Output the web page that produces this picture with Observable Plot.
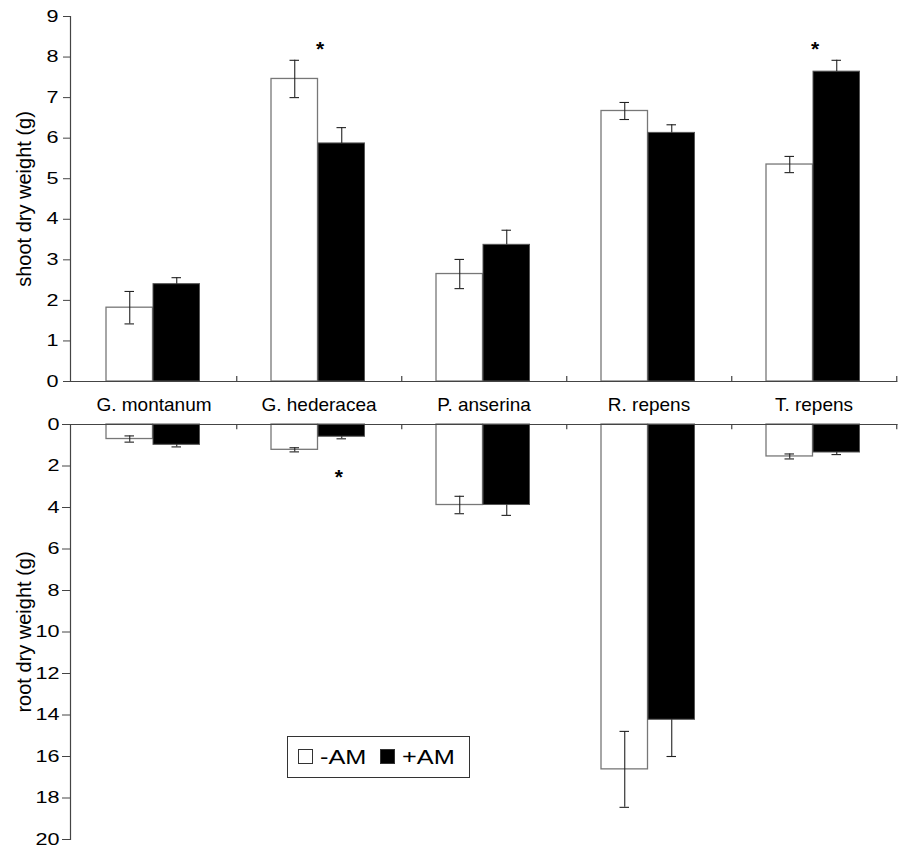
<!DOCTYPE html>
<html>
<head>
<meta charset="utf-8">
<script src="https://cdn.jsdelivr.net/npm/d3@7"></script>
<script src="https://cdn.jsdelivr.net/npm/@observablehq/plot@0.6"></script>
<style>
  html, body { margin: 0; padding: 0; background: #fff; }
  #wrap { position: relative; width: 900px; height: 847px; font-family: "Liberation Sans", Arial, sans-serif; }
  #wrap svg { display: block; }
  #legend { position: absolute; left: 287px; top: 736px; }
</style>
</head>
<body>
<div id="wrap"></div>
<script>
// ---- data ----
const categories = ["G. montanum", "G. hederacea", "P. anserina", "R. repens", "T. repens"];
const treatments = ["-AM", "+AM"];

const shootMinusAM    = [1.82, 7.46, 2.65, 6.67, 5.35];
const shootMinusAMErr = [0.40, 0.46, 0.36, 0.21, 0.20];
const shootPlusAM     = [2.40, 5.87, 3.37, 6.13, 7.64];
const shootPlusAMErr  = [0.16, 0.39, 0.36, 0.20, 0.28];

const rootMinusAM     = [0.70, 1.22, 3.88, 16.62, 1.54];
const rootMinusAMErr  = [0.15, 0.10, 0.42, 1.83, 0.12];
const rootPlusAM      = [0.98, 0.59, 3.88, 14.23, 1.35];
const rootPlusAMErr   = [0.10, 0.10, 0.50, 1.77, 0.10];

const shootTicks = [0, 1, 2, 3, 4, 5, 6, 7, 8, 9];
const rootTicks  = [0, 2, 4, 6, 8, 10, 12, 14, 16, 18, 20];

const shootSignificant = ["G. hederacea", "T. repens"];
const rootSignificant  = ["G. hederacea"];

const shootTitle = "shoot dry weight (g)";
const rootTitle  = "root dry weight (g)";

// ---- build rows ----
function rows(minus, minusErr, plus, plusErr) {
  const out = [];
  categories.forEach((c, i) => {
    out.push({cat: c, trt: "-AM", v: minus[i], e: minusErr[i]});
    out.push({cat: c, trt: "+AM", v: plus[i], e: plusErr[i]});
  });
  return out;
}
const shootRows = rows(shootMinusAM, shootMinusAMErr, shootPlusAM, shootPlusAMErr);
const rootRows  = rows(rootMinusAM, rootMinusAMErr, rootPlusAM, rootPlusAMErr);

// ---- layout constants (styling) ----
const W = 900;
const ML = 70, MR = 2.5;
const band = (W - ML - MR) / categories.length;   // ~165.5
const half = band / 2;
const barW = 47, barOff = 35;
const whiteIn = {insetLeft: barOff, insetRight: band - barOff - barW};
const blackIn = {insetLeft: barOff + barW, insetRight: band - barOff - 2 * barW};
const whiteDx = barOff + barW / 2 - half;
const blackDx = barOff + 1.5 * barW - half;
const capHalf = 5;
const axisColor = "#444";
const errColor = "#222";
const font = "Liberation Sans, Arial, sans-serif";

function panelMarks(data, sig, sigY, sigTrt, tickLen) {
  const white = data.filter(d => d.trt === "-AM");
  const black = data.filter(d => d.trt === "+AM");
  const cap = (arr, dx, yf) => Plot.tickY(arr, {x: "cat", y: yf, dx, insetLeft: half - capHalf, insetRight: half - capHalf, stroke: errColor, strokeWidth: 1.1});
  return [
    Plot.barY(white, {x: "cat", y: "v", fill: "white", stroke: "#777", strokeWidth: 1.3, ...whiteIn}),
    Plot.barY(black, {x: "cat", y: "v", fill: "black", stroke: "#555", strokeWidth: 1, ...blackIn}),
    // -AM: full error bars
    Plot.ruleX(white, {x: "cat", y1: d => d.v - d.e, y2: d => d.v + d.e, dx: whiteDx, stroke: errColor, strokeWidth: 1.1}),
    cap(white, whiteDx, d => d.v + d.e),
    cap(white, whiteDx, d => d.v - d.e),
    // +AM: only the outward half is visible against the black bar
    Plot.ruleX(black, {x: "cat", y1: "v", y2: d => d.v + d.e, dx: blackDx, stroke: errColor, strokeWidth: 1.1}),
    cap(black, blackDx, d => d.v + d.e),
    Plot.ruleY([0], {stroke: axisColor, strokeWidth: 1.2, insetLeft: -6}),
    Plot.ruleX(categories, {x: d => d, dx: half, y1: 0, y2: tickLen, stroke: axisColor, strokeWidth: 1.2}),
    Plot.frame({anchor: "left", stroke: axisColor, strokeWidth: 1.2}),
    Plot.text(sig, {x: d => d, y: sigY, text: () => "*", fontSize: 21, fontWeight: "bold",
      dx: sigTrt === "+AM" ? blackDx - 3 : 1, fill: "black"})
  ];
}

function stretchTicks(svg, k) {
  svg.querySelectorAll('g[aria-label="y-axis tick label"] text').forEach(t => {
    const tr = t.getAttribute("transform") || "";
    t.setAttribute("transform", tr + ` scale(${k},1)`);
  });
}

// ---- top panel (shoot) ----
const shootPlot = Plot.plot({
  width: W, height: 416,
  marginLeft: ML, marginRight: MR, marginTop: 16, marginBottom: 35,
  style: {fontFamily: font, background: "white", color: "black"},
  x: {domain: categories, padding: 0},
  y: {domain: [0, 9]},
  marks: [
    ...panelMarks(shootRows, shootSignificant, 8.2, null, 0.125),
    Plot.axisY({ticks: shootTicks, tickSize: 7, tickPadding: 5, fontSize: 16, label: null, stroke: axisColor, tickFormat: d => String(d)}),
    Plot.axisX({tickSize: 0, tickPadding: 16, fontSize: 19, label: null}),
    Plot.text([shootTitle], {frameAnchor: "left", textAnchor: "middle", rotate: -90, dx: -46, text: d => d, fontSize: 20, fill: "black"})
  ]
});

// ---- bottom panel (root) ----
const rootPlot = Plot.plot({
  width: W, height: 431,
  marginLeft: ML, marginRight: MR, marginTop: 8, marginBottom: 8,
  style: {fontFamily: font, background: "white", color: "black"},
  x: {domain: categories, padding: 0, axis: null},
  y: {domain: [0, 20], reverse: true},
  marks: [
    ...panelMarks(rootRows, rootSignificant, 2.55, "+AM", 0.25),
    Plot.axisY({ticks: rootTicks, tickSize: 8, tickPadding: 3, fontSize: 16, label: null, stroke: axisColor, tickFormat: d => String(d)}),
    Plot.text([rootTitle], {frameAnchor: "left", textAnchor: "middle", rotate: -90, dx: -46, text: d => d, fontSize: 20, fill: "black"})
  ]
});

stretchTicks(shootPlot, 1.35);
stretchTicks(rootPlot, 1.35);

const wrap = document.getElementById("wrap");
wrap.appendChild(shootPlot);
wrap.appendChild(rootPlot);

// ---- legend ----
const legW = 182, legH = 41;
const leg = d3.create("svg").attr("id", "legend").attr("width", legW + 1).attr("height", legH + 1)
  .style("font-family", font);
leg.append("rect").attr("x", 0.5).attr("y", 0.5).attr("width", legW).attr("height", legH)
  .attr("fill", "white").attr("stroke", "#333").attr("stroke-width", 1);
const items = [
  {label: treatments[0], fill: "white", sx: 11, tx: 33},
  {label: treatments[1], fill: "black", sx: 93, tx: 115}
];
items.forEach(it => {
  leg.append("rect").attr("x", it.sx + 0.5).attr("y", 13.5).attr("width", 14).attr("height", 14)
    .attr("fill", it.fill).attr("stroke", "#333").attr("stroke-width", 1);
  leg.append("text").attr("transform", `translate(${it.tx},28) scale(1.3,1)`)
    .attr("font-size", 19.5).attr("fill", "black").text(it.label);
});
wrap.appendChild(leg.node());
</script>
</body>
</html>
